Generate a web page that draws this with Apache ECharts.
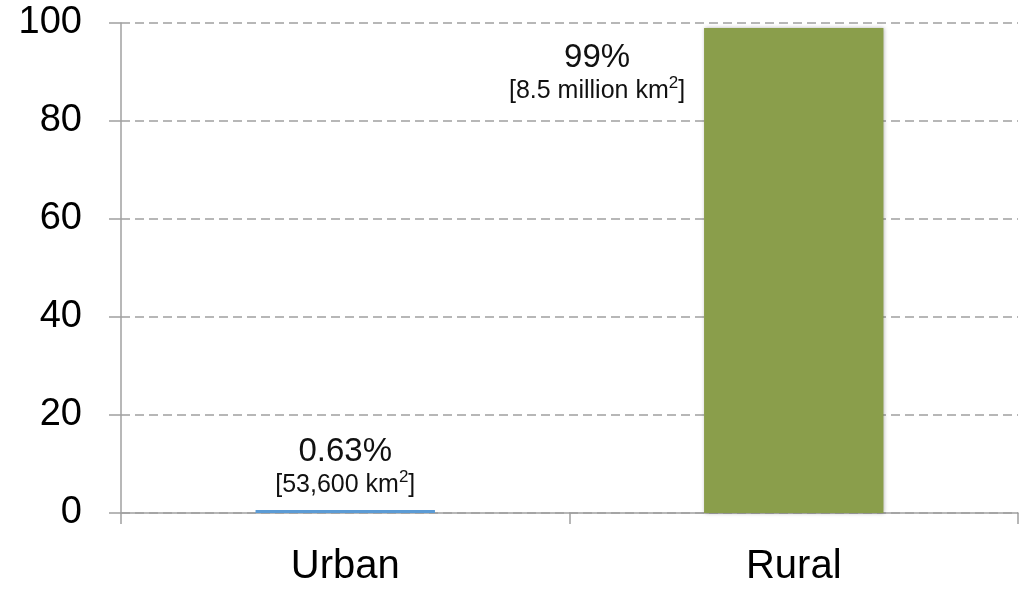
<!DOCTYPE html>
<html>
<head>
<meta charset="utf-8">
<script src="https://cdn.jsdelivr.net/npm/echarts@6/dist/echarts.min.js"></script>
<style>
  html, body { margin: 0; padding: 0; background: #fff; }
  #main { width: 1019px; height: 591px; }
</style>
</head>
<body>
<div id="main"></div>
<script>
// land area share, urban vs rural
var categories = ['Urban', 'Rural'];
var shares = [0.63, 99];
var pctLabels = ['0.63%', '99%'];
var areaLabels = ['[53,600 km', '[8.5 million km'];
var barColors = ['#5B9BD5', '#8A9E4B'];

var font = 'Liberation Sans, Arial, sans-serif';

var richText = {
    p: { fontSize: 33, lineHeight: 34, color: '#111', fontFamily: font },
    a: { fontSize: 25, lineHeight: 33, color: '#111', fontFamily: font },
    s: { fontSize: 17, lineHeight: 33, color: '#111', fontFamily: font, verticalAlign: 'top', padding: [0, 0, 9, 0] }
};

function fmt(params) {
    var i = params.dataIndex;
    return '{p|' + pctLabels[i] + '}\n{a|' + areaLabels[i] + '}{s|2}{a|]}';
}

var seriesData = shares.map(function(v, i) {
    var item = {
        value: v,
        itemStyle: { color: barColors[i] }
    };
    if (i === 1) {
        // rural label sits to the left of the tall bar
        item.label = { position: [-107, 13], align: 'center', verticalAlign: 'top' };
        item.itemStyle.shadowBlur = 4;
        item.itemStyle.shadowColor = 'rgba(0,0,0,0.3)';
        item.itemStyle.shadowOffsetX = 1;
    }
    return item;
});

echarts.init(document.getElementById('main')).setOption({
    animation: false,
    grid: { left: 121, right: 1, top: 23, bottom: 78 },
    xAxis: {
        type: 'category',
        data: categories,
        axisLine: { lineStyle: { color: '#a0a0a0', width: 1.5 } },
        axisTick: { show: true, length: 11, lineStyle: { color: '#a0a0a0', width: 1.5 } },
        axisLabel: { fontSize: 40, color: '#000', fontFamily: font, margin: 34 }
    },
    yAxis: {
        type: 'value',
        min: 0,
        max: 100,
        interval: 20,
        axisLine: { show: true, lineStyle: { color: '#a0a0a0', width: 1.5 } },
        axisTick: { show: true, length: 12, lineStyle: { color: '#a0a0a0', width: 1.5 } },
        axisLabel: { fontSize: 38, color: '#000', fontFamily: font, margin: 39 },
        splitLine: { show: true, lineStyle: { color: '#a0a0a0', width: 1.5, type: [9, 5] } }
    },
    series: [{
        type: 'bar',
        barWidth: '40%',
        data: seriesData,
        label: {
            show: true,
            position: 'top',
            distance: 8,
            formatter: fmt,
            rich: richText
        }
    }]
});
</script>
</body>
</html>
